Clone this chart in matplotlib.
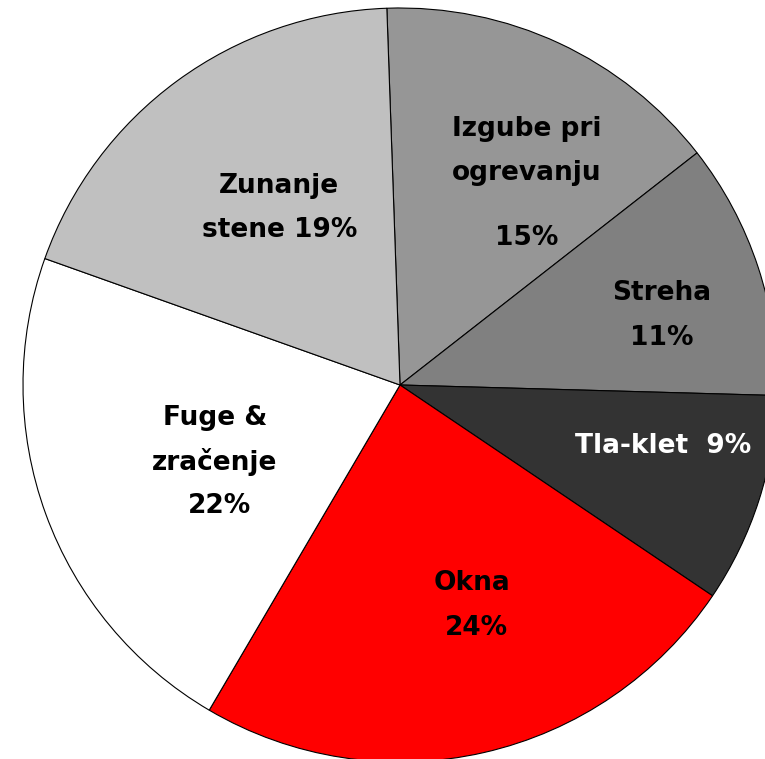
import matplotlib
matplotlib.use('Agg')
from matplotlib import pyplot as plt

# data
names = ['Izgube pri\nogrevanju', 'Streha', 'Tla-klet', 'Okna', 'Fuge &\nzračenje', 'Zunanje\nstene']
shares = [15, 11, 9, 24, 22, 19]
colors = ['#969696', '#808080', '#333333', '#ff0000', '#ffffff', '#c0c0c0']
text_colors = ['black', 'black', 'white', 'black', 'black', 'black']

# label lines: how name and percent are joined, then where each line sits (px, baseline)
joins = ['\n\n', '\n', '  ', '\n', '\n', ' ']
line_pos = [
    [(527, 136), (527, 180), (527, 245)],
    [(662, 300), (662, 345)],
    [(663, 453)],
    [(472, 590), (476, 635)],
    [(215, 425), (215, 470), (219, 513)],
    [(279, 193), (280, 237)],
]

W, H = 765, 759
cx, cy, R = 400, 385, 377

fig = plt.figure(figsize=(W / 100, H / 100), dpi=100)
ax = fig.add_axes([(cx - R) / W, (H - cy - R) / H, 2 * R / W, 2 * R / H])

ax.pie(shares, colors=colors, startangle=92, counterclock=False, radius=1,
       wedgeprops=dict(edgecolor='black', linewidth=0.8))
ax.set_xlim(-1, 1)
ax.set_ylim(-1, 1)
ax.set_aspect('equal')
ax.axis('off')

for name, v, j, pos, tc in zip(names, shares, joins, line_pos, text_colors):
    lines = (name + j + f'{v}%').split('\n')
    lines = [s for s in lines if s != '']
    for s, (px, py) in zip(lines, pos):
        ax.text((px - cx) / R, (cy - py) / R, s, ha='center', va='baseline',
                fontsize=19, fontweight='bold', color=tc, family='DejaVu Sans')

fig.savefig('out.png', dpi=100)
